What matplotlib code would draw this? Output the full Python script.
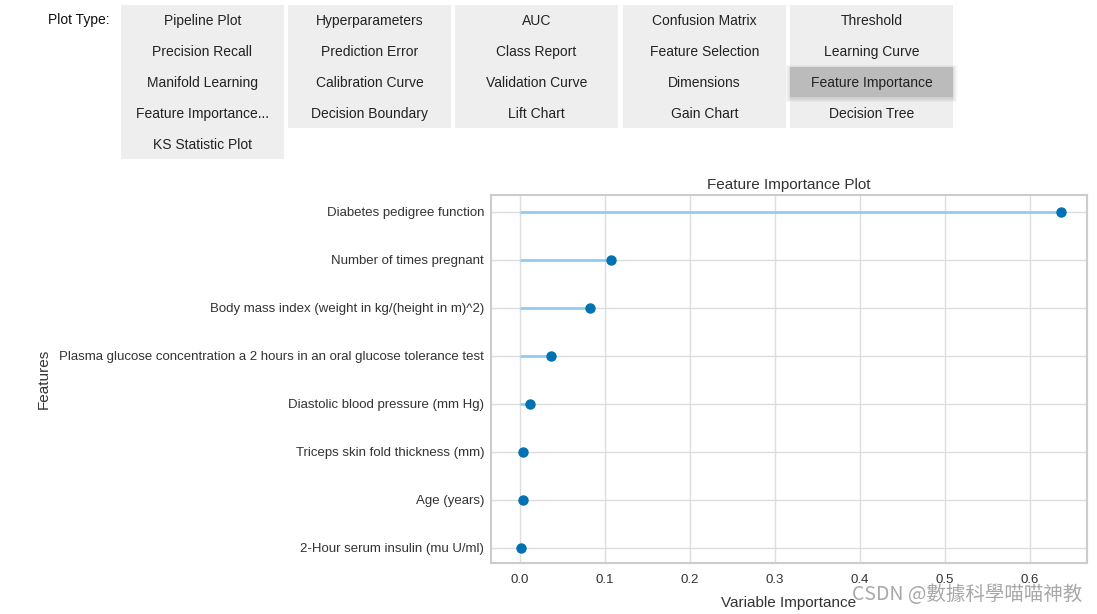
import numpy as np
import matplotlib.pyplot as plt
from matplotlib.patches import Rectangle

plt.rcParams['font.family'] = ['Liberation Sans', 'DejaVu Sans']

# menu buttons (column by column)
menu_cols = [
    ['Pipeline Plot', 'Precision Recall', 'Manifold Learning', 'Feature Importance...', 'KS Statistic Plot'],
    ['Hyperparameters', 'Prediction Error', 'Calibration Curve', 'Decision Boundary'],
    ['AUC', 'Class Report', 'Validation Curve', 'Lift Chart'],
    ['Confusion Matrix', 'Feature Selection', 'Dimensions', 'Gain Chart'],
    ['Threshold', 'Learning Curve', 'Feature Importance', 'Decision Tree'],
]
selected = 'Feature Importance'

# feature importances, bottom to top
features = ['2-Hour serum insulin (mu U/ml)', 'Age (years)', 'Triceps skin fold thickness (mm)',
            'Diastolic blood pressure (mm Hg)',
            'Plasma glucose concentration a 2 hours in an oral glucose tolerance test',
            'Body mass index (weight in kg/(height in m)^2)', 'Number of times pregnant',
            'Diabetes pedigree function']
importance = [0.001, 0.004, 0.004, 0.012, 0.037, 0.082, 0.107, 0.636]

W, H = 1097, 614
fig = plt.figure(figsize=(W / 100, H / 100), dpi=100)

# widget area drawn in pixel coords
bg = fig.add_axes([0, 0, 1, 1])
bg.set_xlim(0, W)
bg.set_ylim(H, 0)
bg.axis('off')

bg.text(110, 20, 'Plot Type:', ha='right', va='center', fontsize=10, color='#111111')
col_x = [121, 288, 455, 623, 790]
col_w = 163
row_h = 30.8
for cx, col in zip(col_x, menu_cols):
    bg.add_patch(Rectangle((cx, 5), col_w, row_h * len(col), color='#eeeeee', lw=0))
    for i, name in enumerate(col):
        y0 = 5 + i * row_h
        if name == selected:
            for k in range(1, 5):
                bg.add_patch(Rectangle((cx - k, y0 - k + 2), col_w + 2 * k, row_h + 2 * k - 1,
                                       color='black', alpha=0.03, lw=0))
            bg.add_patch(Rectangle((cx, y0), col_w, row_h, color='#bbbbbb', lw=0))
        bg.text(cx + col_w / 2, y0 + row_h / 2 + 1, name, ha='center', va='center',
                fontsize=10, color='#222222')

# chart
ax = fig.add_axes([491 / W, 1 - 563 / H, (1087 - 491) / W, (563 - 195) / H])
y = np.arange(len(features))
ax.hlines(y, 0, importance, color='#8ecfee', lw=2, zorder=2)
ax.plot(importance, y, 'o', color='#0072b2', ms=6.5, zorder=3)
ax.set_yticks(y)
ax.set_yticklabels(features)
ax.set_xticks(np.arange(0, 0.61, 0.1))
ax.set_xlim(-0.034, 0.667)
ax.set_ylim(-0.32, 7.35)
ax.grid(True, color='#dddddd', lw=1)
ax.set_axisbelow(True)
for s in ax.spines.values():
    s.set_color('#cccccc')
    s.set_linewidth(1.5)
ax.tick_params(axis='y', length=0, labelsize=9.5, colors='#333333', pad=5)
ax.tick_params(axis='x', length=0, labelsize=9.5, colors='#333333', pad=8)
ax.set_title('Feature Importance Plot', fontsize=11, color='#333333', pad=4)
ax.set_xlabel('Variable Importance', fontsize=11, color='#333333', labelpad=7)
ax.set_ylabel('Features', fontsize=11, color='#333333')
ax.yaxis.set_label_coords(-0.738, 0.5)

fig.text(1082 / W, 1 - 594 / H, 'CSDN @數據科學喵喵神教', ha='right', va='center',
         fontsize=14, color='#a8a8a8', family=['Noto Sans CJK TC', 'DejaVu Sans'])

fig.savefig('out.png', dpi=100)
